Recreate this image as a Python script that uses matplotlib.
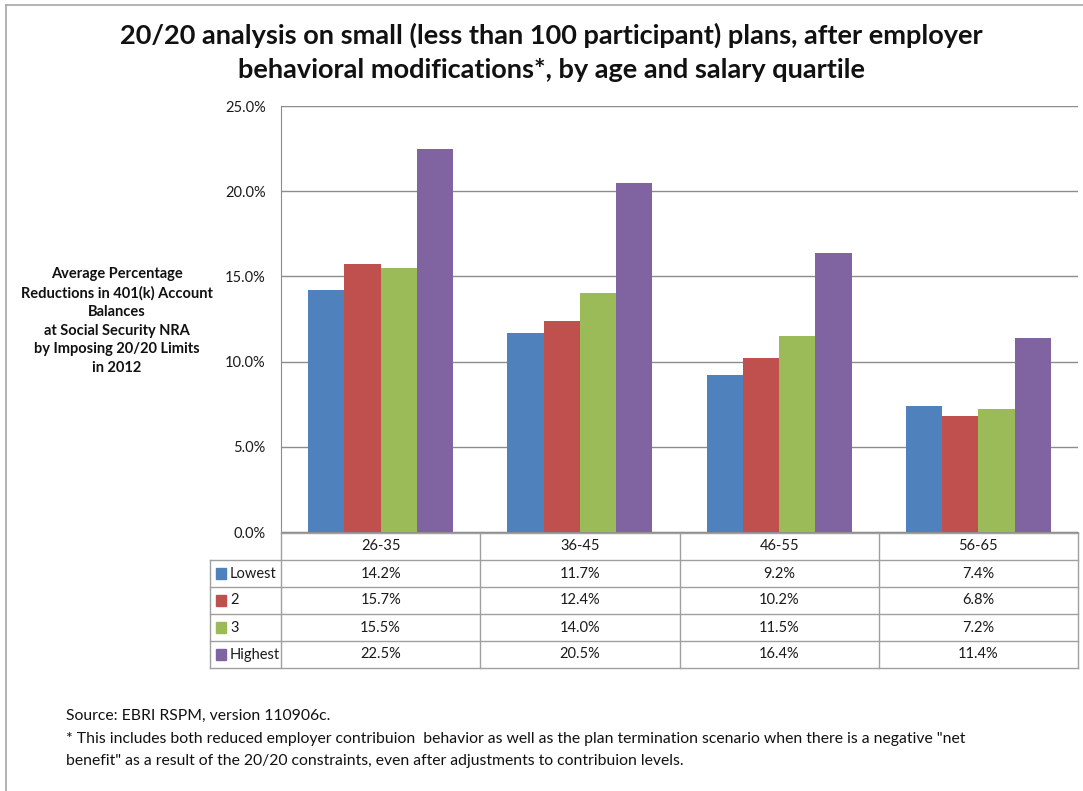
import matplotlib
matplotlib.use("Agg")
import matplotlib.pyplot as plt
from matplotlib.lines import Line2D
from matplotlib.patches import Rectangle
import numpy as np

plt.rcParams['font.family'] = ['Lato', 'DejaVu Sans']

# data
ages = ["26-35", "36-45", "46-55", "56-65"]
quartiles = ["Lowest", "2", "3", "Highest"]
lowest = [14.2, 11.7, 9.2, 7.4]
q2 = [15.7, 12.4, 10.2, 6.8]
q3 = [15.5, 14.0, 11.5, 7.2]
highest = [22.5, 20.5, 16.4, 11.4]
series = [lowest, q2, q3, highest]
colors = ["#4F81BD", "#C0504D", "#9BBB59", "#8064A2"]
yticks = [0, 5, 10, 15, 20, 25]

W, H = 1083, 791
fig = plt.figure(figsize=(W / 100, H / 100), dpi=100)

def px(x0, y0, x1, y1):
    # pixel box -> figure fraction rect
    return [x0 / W, 1 - y1 / H, (x1 - x0) / W, (y1 - y0) / H]

grey = "#8C8C8C"
txt = "#1A1A1A"

# main bar axes
ax = fig.add_axes(px(281, 106, 1078, 532))
x = np.arange(len(ages))
bw = 0.182
for i, vals in enumerate(series):
    ax.bar(x + (i - 1.5) * bw, vals, width=bw, color=colors[i], zorder=3)

ax.set_xlim(-0.5, 3.5)
ax.set_ylim(0, 25)
ax.set_yticks(yticks)
ax.set_yticklabels([f"{v:.1f}%" for v in yticks], fontsize=10.5, color=txt)
ax.tick_params(axis="y", length=0, pad=11)
ax.set_xticks([])
ax.grid(axis="y", color=grey, linewidth=1, zorder=0)
for s in ["top", "right"]:
    ax.spines[s].set_visible(False)
ax.spines["left"].set_color(grey)
ax.spines["bottom"].set_color(grey)

# data table below the plot
tax = fig.add_axes(px(281, 533, 1078, 668))
tax.set_xlim(-0.5, 3.5)
tax.set_ylim(5, 0)
tax.axis("off")
cw = 797 / 4
lcol = -0.5 - 71 / cw
lw = 1.0
tc = "#A0A0A0"
# horizontal lines
tax.add_line(Line2D([-0.5, 3.5], [0, 0], color=tc, lw=lw, clip_on=False))
for r in range(1, 6):
    tax.add_line(Line2D([lcol, 3.5], [r, r], color=tc, lw=lw, clip_on=False))
# vertical lines
for c in range(5):
    tax.add_line(Line2D([c - 0.5, c - 0.5], [0, 5], color=tc, lw=lw, clip_on=False))
tax.add_line(Line2D([lcol, lcol], [1, 5], color=tc, lw=lw, clip_on=False))

fs = 10.5
for j, a in enumerate(ages):
    tax.text(j, 0.5, a, ha="center", va="center", fontsize=fs, color=txt)
for i, (q, vals) in enumerate(zip(quartiles, series)):
    r = i + 1.5
    tax.add_patch(Rectangle((lcol + 6 / cw, r - 0.19), 10 / cw, 0.38,
                            color=colors[i], clip_on=False))
    tax.text(lcol + 20 / cw, r, q, ha="left", va="center", fontsize=fs, color=txt)
    for j, v in enumerate(vals):
        tax.text(j, r, f"{v:.1f}%", ha="center", va="center", fontsize=fs, color=txt)

# title
fig.text(551 / W, 1 - 35 / H, "20/20 analysis on small (less than 100 participant) plans, after employer",
         ha="center", va="center", fontsize=19.5, fontweight="bold", color="#111111")
fig.text(551 / W, 1 - 70 / H, "behavioral modifications*, by age and salary quartile",
         ha="center", va="center", fontsize=19.5, fontweight="bold", color="#111111")

# y axis label
fig.text(117 / W, 1 - 321 / H,
         "Average Percentage\nReductions in 401(k) Account\nBalances\nat Social Security NRA\n"
         "by Imposing 20/20 Limits\nin 2012",
         ha="center", va="center", fontsize=10.5, fontweight="bold", color="#111111",
         linespacing=1.42)

# footnotes
notes = ["Source: EBRI RSPM, version 110906c.",
         "* This includes both reduced employer contribuion  behavior as well as the plan termination scenario when there is a negative \"net",
         "benefit\" as a result of the 20/20 constraints, even after adjustments to contribuion levels."]
for k, n in enumerate(notes):
    fig.text(66 / W, 1 - (716 + k * 22.5) / H, n, ha="left", va="center", fontsize=11.3, color="#111111")

# outer frame (top and left only visible)
fig.add_artist(Line2D([6 / W, 1], [1 - 5 / H, 1 - 5 / H], color="#A6A6A6", lw=1.2))
fig.add_artist(Line2D([6 / W, 6 / W], [0, 1 - 5 / H], color="#A6A6A6", lw=1.2))

fig.savefig("out.png", dpi=100, facecolor="white")
